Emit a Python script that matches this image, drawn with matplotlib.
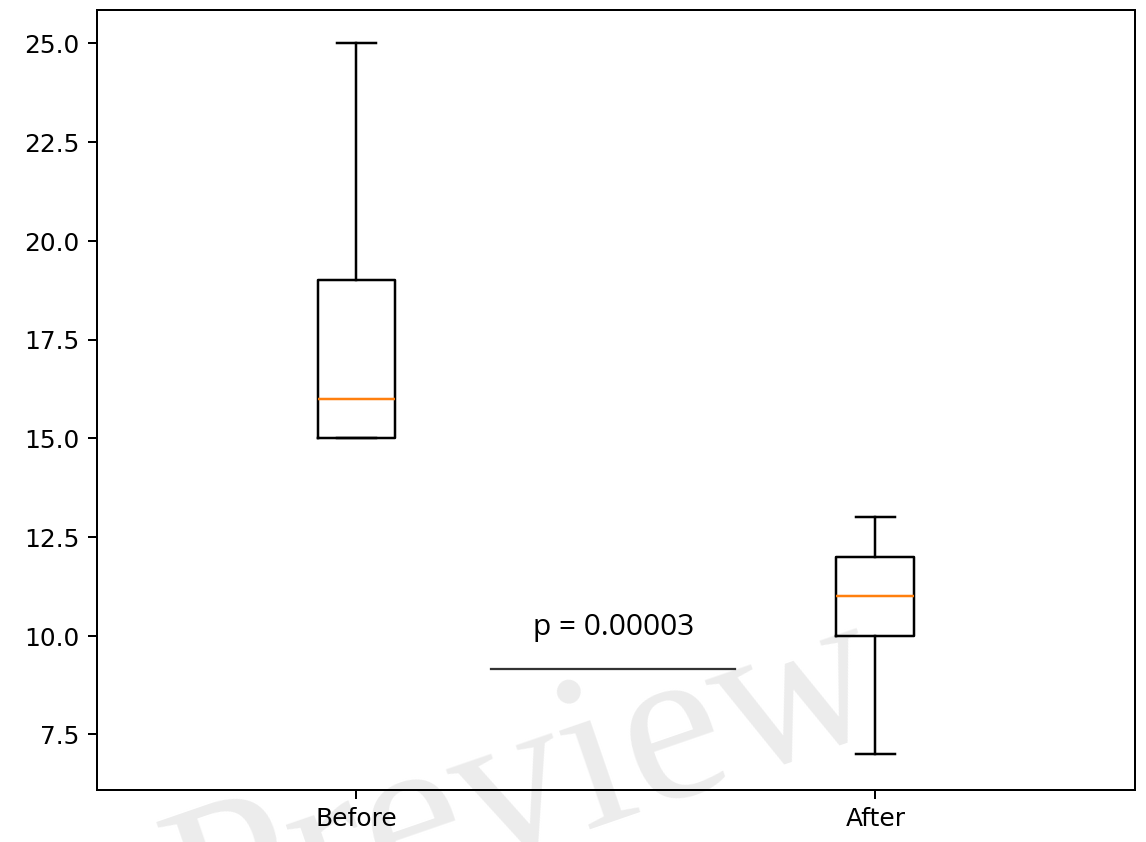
import matplotlib
matplotlib.use("Agg")
import matplotlib.pyplot as plt

labels = ["Before", "After"]
medians = [16.0, 11.0]
q1s = [15.0, 10.0]
q3s = [19.0, 12.0]
whislo = [15.0, 7.0]
whishi = [25.0, 13.0]
p_text = "p = 0.00003"
sig_x = [1.26, 1.73]
sig_y = 9.15
text_y = 9.85

fig = plt.figure(figsize=(6.4, 4.7), dpi=179.2)
ax = fig.add_axes([0.0846, 0.062, 0.9049, 0.926])
ax.patch.set_visible(False)

stats = []
for i in range(len(labels)):
    stats.append(dict(label=labels[i], med=medians[i], q1=q1s[i], q3=q3s[i],
                      whislo=whislo[i], whishi=whishi[i], fliers=[]))
ax.bxp(stats, showfliers=False, widths=0.15)

ax.plot(sig_x, [sig_y, sig_y], color="#333333", lw=0.9)
ax.text(sum(sig_x) / 2, text_y, p_text, ha="center", va="bottom",
        fontsize=12, family=["Open Sans", "DejaVu Sans"])

ax.set_xlim(0.5, 2.5)
ax.set_ylim(6.1, 25.85)
ax.set_yticks([7.5, 10.0, 12.5, 15.0, 17.5, 20.0, 22.5, 25.0])
ax.tick_params(labelsize=10)

fig.text(0.46, 0.06, "Preview", fontsize=90, family="Liberation Serif",
         color="#ececec", rotation=19, ha="center", va="center", zorder=-1)

fig.savefig("out.png", dpi=179.2)
